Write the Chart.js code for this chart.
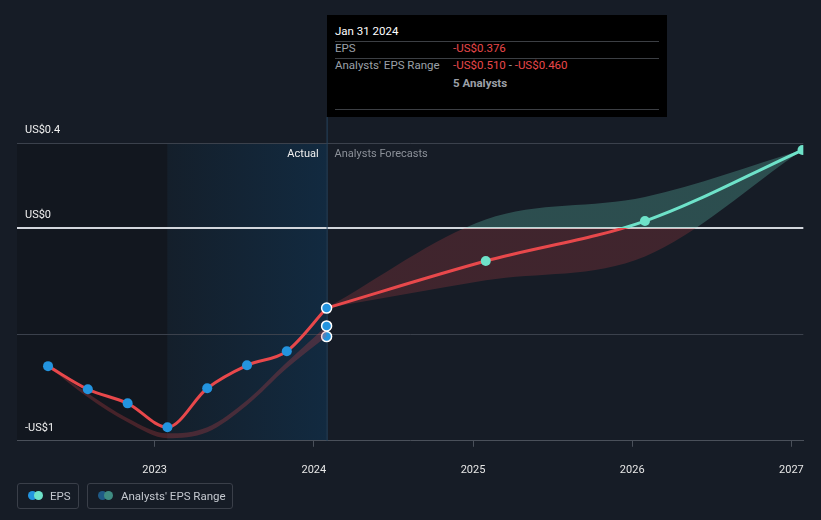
<!DOCTYPE html>
<html><head><meta charset="utf-8">
<script src="https://cdn.jsdelivr.net/npm/chart.js@4.4.1/dist/chart.umd.min.js"></script>
<style>
html,body{margin:0;padding:0;background:#161c26;}
#wrap{position:relative;width:821px;height:520px;font-family:Roboto,'Open Sans',sans-serif;overflow:hidden;}
canvas{position:absolute;left:0;top:0;}
#tip{position:absolute;left:327px;top:15px;width:340px;height:102px;background:#000;}
#tip span{position:absolute;font-size:11.5px;line-height:14px;white-space:nowrap;}
#tip .hr{position:absolute;left:8px;width:324px;height:1px;background:#3c3f44;}
.lg{position:absolute;top:483px;height:24px;border:1px solid #3a3f49;border-radius:3px;box-sizing:content-box;}
.lg .c{position:absolute;top:7px;width:9px;height:9px;border-radius:50%;}
.lg .t{position:absolute;top:5px;font-size:11.5px;line-height:14px;color:#c4c8cf;white-space:nowrap;}
</style></head>
<body>
<div id="wrap">
<canvas id="c" width="821" height="520"></canvas>
<div id="tip">
  <span style="left:8px;top:9px;color:#fff;">Jan 31 2024</span>
  <div class="hr" style="top:26px;"></div>
  <span style="left:8px;top:26px;color:#9ca0a8;">EPS</span>
  <span style="left:126px;top:26px;color:#e8484b;">-US$0.376</span>
  <div class="hr" style="top:43px;"></div>
  <span style="left:8px;top:43px;color:#9ca0a8;">Analysts' EPS Range</span>
  <span style="left:126px;top:43px;color:#e8484b;">-US$0.510 <span style="position:static;color:#9ca0a8;">-</span> -US$0.460</span>
  <span style="left:126px;top:61px;color:#9ca0a8;font-weight:bold;">5 Analysts</span>
  <div class="hr" style="top:94px;"></div>
</div>
<div class="lg" style="left:17px;width:60px;">
  <div class="c" style="left:10px;background:#2394df;"></div>
  <div class="c" style="left:16px;background:#6ee2c9;"></div>
  <div class="t" style="left:32px;">EPS</div>
</div>
<div class="lg" style="left:87px;width:144px;">
  <div class="c" style="left:10px;background:#1f5a86;"></div>
  <div class="c" style="left:16px;background:#3f8c82;"></div>
  <div class="t" style="left:33px;">Analysts' EPS Range</div>
</div>
</div>
<script>
// ---- data (x values are dates as decimal years) ----
const actualDates = [2022.33, 2022.58, 2022.83, 2023.08, 2023.33, 2023.58, 2023.83, 2024.08];
const actualEps   = [-0.649, -0.758, -0.824, -0.936, -0.753, -0.645, -0.579, -0.376];
const histRangeHigh = [-0.649, -0.776, -0.894, -0.965, -0.936, -0.809, -0.631, -0.460];
const histRangeLow  = [-0.649, -0.795, -0.913, -0.988, -0.960, -0.833, -0.659, -0.510];
const forecastDates = [2024.08, 2025.08, 2026.08, 2027.07];
const forecastEps   = [-0.376, -0.155, 0.033, 0.367];
const forecastHigh  = [-0.376, 0.040, 0.146, 0.367];
const forecastLow   = [-0.376, -0.245, -0.133, 0.367];
const yTickValues = [-1, -0.5, 0, 0.4];
const yTickLabels = {'-1':'-US$1', '-0.5':'', '0':'US$0', '0.4':'US$0.4'};
const xTickValues = [2023, 2024, 2025, 2026, 2027];
const highlightStart = 2023.08, highlightEnd = 2024.08;

const RED = '#e8484b', TEAL = '#6ee2c9', BLUE = '#2394df';
const pts = (xs, ys) => xs.map((x, i) => ({x, y: ys[i]}));

function zeroGrad(chart, above, below) {
  const {ctx, chartArea, scales} = chart;
  if (!chartArea) return below;
  const y0 = scales.y.getPixelForValue(0);
  const g = ctx.createLinearGradient(0, chartArea.top, 0, chartArea.bottom);
  let f = (y0 - chartArea.top) / (chartArea.bottom - chartArea.top);
  f = Math.min(1, Math.max(0, f));
  g.addColorStop(0, above); g.addColorStop(f, above);
  g.addColorStop(f, below); g.addColorStop(1, below);
  return g;
}

const bgPlugin = {
  id: 'bg',
  beforeDraw(chart) {
    const {ctx, chartArea: a, scales: {x}} = chart;
    ctx.save();
    ctx.fillStyle = '#161c26';
    ctx.fillRect(0, 0, chart.width, chart.height);
    const xs = x.getPixelForValue(highlightStart), xe = x.getPixelForValue(highlightEnd);
    ctx.fillStyle = '#12171f';
    ctx.fillRect(a.left, a.top, xs - a.left, a.bottom - a.top);
    const g = ctx.createLinearGradient(xs, 0, xe, 0);
    g.addColorStop(0, '#141f2b'); g.addColorStop(1, '#122a40');
    ctx.fillStyle = g;
    ctx.fillRect(xs, a.top, xe - xs, a.bottom - a.top);
    ctx.restore();
  },
  beforeDatasetsDraw(chart) {
    const {ctx, chartArea: a, scales: {x}} = chart;
    const xe = x.getPixelForValue(highlightEnd);
    ctx.save();
    ctx.strokeStyle = '#25445f';
    ctx.lineWidth = 1;
    ctx.beginPath(); ctx.moveTo(xe + 0.5, 117); ctx.lineTo(xe + 0.5, a.bottom); ctx.stroke();
    ctx.font = '11px Roboto, sans-serif';
    ctx.textBaseline = 'middle';
    ctx.textAlign = 'right'; ctx.fillStyle = '#f0f0f0';
    ctx.fillText('Actual', xe - 8, a.top + 11);
    ctx.textAlign = 'left'; ctx.fillStyle = '#8c9199';
    ctx.fillText('Analysts Forecasts', xe + 8, a.top + 11);
    ctx.restore();
  }
};

const lastIdx = actualDates.length - 1;
const hoverPt = (ctx) => ctx.dataIndex === lastIdx ? 5 : 0;

new Chart(document.getElementById('c'), {
  type: 'line',
  data: {
    datasets: [
      { label: 'EPS', data: pts(actualDates, actualEps), order: 0,
        borderColor: RED, borderWidth: 3, cubicInterpolationMode: 'monotone',
        pointRadius: 5, pointBackgroundColor: BLUE,
        pointBorderColor: (c) => c.dataIndex === lastIdx ? '#ffffff' : BLUE,
        pointBorderWidth: (c) => c.dataIndex === lastIdx ? 1.5 : 0, fill: false },
      { label: 'EPS forecast', data: pts(forecastDates, forecastEps), order: 1,
        borderColor: (c) => zeroGrad(c.chart, TEAL, RED), borderWidth: 3,
        cubicInterpolationMode: 'monotone',
        pointRadius: (c) => c.dataIndex === 0 ? 0 : 5, pointBackgroundColor: TEAL,
        pointBorderWidth: 0, fill: false },
      { label: 'Range high', data: pts(forecastDates, forecastHigh), order: 3,
        borderWidth: 0, pointRadius: 0, cubicInterpolationMode: 'monotone',
        fill: '+1', backgroundColor: (c) => zeroGrad(c.chart, 'rgba(110,226,201,0.25)', 'rgba(232,72,75,0.2)') },
      { label: 'Range low', data: pts(forecastDates, forecastLow), order: 4,
        borderWidth: 0, pointRadius: 0, cubicInterpolationMode: 'monotone', fill: false },
      { label: 'Hist range high', data: pts(actualDates, histRangeHigh), order: 5,
        borderWidth: 0, cubicInterpolationMode: 'monotone',
        pointRadius: hoverPt, pointBackgroundColor: BLUE, pointBorderColor: '#fff', pointBorderWidth: 1.5,
        fill: '+1', backgroundColor: 'rgba(232,72,75,0.25)' },
      { label: 'Hist range low', data: pts(actualDates, histRangeLow), order: 6,
        borderWidth: 0, cubicInterpolationMode: 'monotone',
        pointRadius: hoverPt, pointBackgroundColor: BLUE, pointBorderColor: '#fff', pointBorderWidth: 1.5,
        fill: false }
    ]
  },
  options: {
    responsive: false, animation: false,
    layout: { padding: { top: 143, left: 1, right: 16, bottom: 26 } },
    plugins: { legend: { display: false }, tooltip: { enabled: false } },
    scales: {
      x: { type: 'linear', min: 2022.135, max: 2027.075,
        afterBuildTicks: (s) => { s.ticks = xTickValues.map(v => ({value: v})); },
        ticks: { color: '#e6e6e6', font: { family: 'Roboto', size: 11 }, padding: 17,
          callback: (v) => String(v), maxRotation: 0 },
        grid: { drawOnChartArea: false, drawTicks: true, tickLength: 6, color: '#4a505a' },
        border: { display: true, color: '#4a505a', width: 1 } },
      y: { min: -1, max: 0.4,
        afterBuildTicks: (s) => { s.ticks = yTickValues.map(v => ({value: v})); },
        ticks: { mirror: true, padding: 8, labelOffset: -13, color: '#f0f0f0',
          font: { family: 'Roboto', size: 11 },
          callback: (v) => yTickLabels[String(v)] },
        grid: { drawTicks: false,
          color: (c) => c.tick.value === 0 ? '#d2d6dc' : (c.tick.value === -1 ? 'rgba(0,0,0,0)' : '#3b414c'),
          lineWidth: (c) => c.tick.value === 0 ? 2 : 1 },
        border: { display: false } }
    }
  },
  plugins: [bgPlugin]
});
</script>
</body></html>
